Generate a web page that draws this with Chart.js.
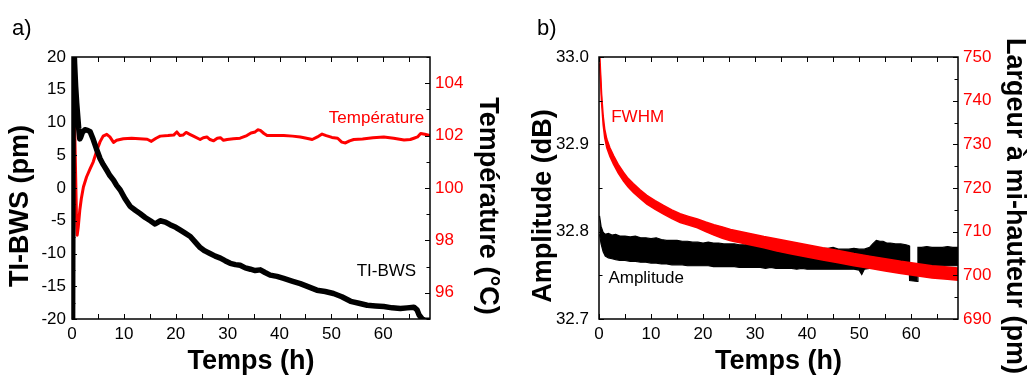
<!DOCTYPE html>
<html><head><meta charset="utf-8">
<script src="https://cdn.jsdelivr.net/npm/chart.js@4/dist/chart.umd.min.js"></script>
<style>
html,body{margin:0;padding:0;background:#fff;width:1028px;height:378px;overflow:hidden}
#wa{position:absolute;left:0;top:0;width:510px;height:378px}
#wb{position:absolute;left:510px;top:0;width:518px;height:378px}
</style></head><body>
<div id="wa"><canvas id="ca"></canvas></div>
<div id="wb"><canvas id="cb"></canvas></div>
<script>
// ---------- data ----------
const tiHours = [0.1,0.25,0.5,0.7,0.9,1.1,1.3,1.5,1.7,2.0,2.5,3.0,3.5,4.1,4.7,5.4,6.0,6.7,7.3,8.0,8.6,9.3,10.2,11.2,12.2,13.1,14.1,15.1,16.0,16.6,17.0,18.0,18.9,20.0,20.8,21.8,22.8,23.8,24.7,25.6,26.6,27.6,28.6,29.5,30.5,31.5,32.4,33.4,34.4,35.3,36.3,37.2,38.2,39.5,40.8,42.4,44.0,45.6,47.2,48.8,50.4,52.0,53.7,55.3,56.9,58.5,60.1,61.7,63.3,64.6,65.9,66.5,66.9,67.5,68.0,69.0];
const tiValues = [-25,25,19,15.5,13,11,9,7.5,7.8,8.5,8.9,8.8,8.6,7.4,6.0,4.5,3.6,2.7,1.9,1.2,0.4,-0.3,-1.6,-2.8,-3.4,-3.9,-4.5,-5.0,-5.5,-5.2,-5.0,-5.2,-5.6,-6.0,-6.4,-6.9,-7.4,-8.3,-9.1,-9.6,-10.0,-10.4,-10.7,-11.1,-11.5,-11.7,-11.8,-12.2,-12.4,-12.6,-12.5,-12.9,-13.3,-13.5,-13.8,-14.2,-14.6,-15.1,-15.6,-15.8,-16.1,-16.6,-17.3,-17.6,-17.9,-18.0,-18.1,-18.3,-18.4,-18.3,-18.2,-18.6,-19.4,-20.0,-20.2,-20.2];

const tempHours = [0.2,0.55,0.85,1.0,1.2,1.5,1.8,2.2,2.8,3.5,4.1,4.8,5.4,6.0,6.7,7.3,8.0,8.6,9.9,11.5,13.0,14.5,15.3,16.2,17.0,18.5,19.6,20.2,20.8,21.4,22.0,22.7,23.4,24.7,25.3,26.0,26.6,27.3,28.0,28.6,29.2,29.9,31.1,32.4,33.7,34.5,35.3,35.8,36.3,37.0,37.6,39.0,40.8,42.5,44.0,45.2,46.3,47.3,48.2,49.0,50.1,51.2,52.0,52.7,53.5,54.3,56.0,58.0,60.1,62.0,64.0,65.2,65.9,66.6,67.2,68.0,69.0];
const tempValues = [105.5,102,99,98.2,98.5,99.15,99.6,100.04,100.42,100.74,101.0,101.44,101.76,101.98,102.05,101.95,101.74,101.82,101.88,101.9,101.88,101.86,101.78,101.9,101.98,102.0,102.02,102.14,102.0,102.02,102.12,102.05,101.98,101.85,101.92,101.95,101.85,101.8,101.9,101.92,101.82,101.85,101.88,101.9,102.0,102.1,102.14,102.22,102.2,102.08,102.0,102.0,102.0,101.98,101.95,101.9,101.85,101.95,102.06,102.0,101.93,101.9,101.75,101.72,101.8,101.85,101.87,101.92,101.95,101.9,101.83,101.85,101.9,101.95,102.08,102.05,102.0];

const fwhmHours = [0.15,0.3,0.5,0.8,1.1,1.5,2.1,2.8,3.7,4.7,5.6,6.6,7.9,9.2,10.8,12.4,14.0,15.6,17.2,18.9,20.5,22.1,23.7,25.3,26.9,28.5,30.1,31.7,34.0,37.0,40.0,43.0,46.0,49.0,52.0,55.0,58.0,61.0,64.0,67.0,69.0];
const fwhmUpper = [750.5,746.5,741.5,736.5,733.5,731.2,729.2,727.4,725.4,723.6,722.2,721.0,719.6,718.3,717.1,716.0,715.0,714.1,713.5,712.9,712.2,711.6,711.1,710.5,710.1,709.7,709.3,708.9,708.4,707.7,707.0,706.3,705.7,705.0,704.4,703.8,703.2,702.7,702.2,701.9,701.7];
const fwhmLower = [748.5,744.5,739.5,734.5,731.5,729.2,727.2,725.4,723.4,721.6,720.2,719.0,717.6,716.3,715.1,714.0,713.0,712.1,711.5,710.9,710.0,709.2,708.5,707.9,707.5,707.1,706.7,706.3,705.6,704.9,704.2,703.5,702.9,702.2,701.6,701.0,700.4,699.9,699.4,699.1,698.9];

const ampHours = [0.1,0.4,0.8,1.2,1.8,2.5,3.2,4,5,6,7,8,9,10,11,12,13,14,15,16,17,18,19,20,21,22,23,24,25,26,27,28,29,30,31,32,33,34,35,36,37,38,39,40,41,42,43,44,45,46,47,48,49,50,50.5,51,52,52.6,53.3,54,54.6,55.3,56,57,58,59,59.6,59.7,61.2,61.3,62,63,64,65,66,67,68,69];
const ampUpper = [32.818,32.806,32.799,32.797,32.798,32.796,32.797,32.795,32.795,32.794,32.795,32.793,32.793,32.792,32.793,32.791,32.790,32.790,32.790,32.789,32.789,32.788,32.788,32.787,32.788,32.787,32.787,32.786,32.786,32.786,32.785,32.785,32.786,32.784,32.784,32.784,32.785,32.783,32.783,32.783,32.782,32.782,32.782,32.781,32.782,32.781,32.781,32.781,32.782,32.780,32.780,32.780,32.781,32.780,32.780,32.780,32.782,32.786,32.790,32.789,32.789,32.787,32.787,32.786,32.786,32.785,32.784,32.762,32.763,32.782,32.782,32.783,32.782,32.782,32.782,32.783,32.782,32.782];
const ampLower = [32.797,32.786,32.777,32.772,32.770,32.769,32.768,32.767,32.767,32.766,32.766,32.765,32.765,32.764,32.764,32.763,32.763,32.762,32.762,32.762,32.761,32.761,32.761,32.761,32.761,32.760,32.760,32.760,32.760,32.760,32.759,32.759,32.759,32.759,32.759,32.758,32.759,32.758,32.758,32.758,32.758,32.757,32.758,32.757,32.757,32.757,32.757,32.757,32.757,32.757,32.757,32.757,32.757,32.756,32.751,32.757,32.758,32.759,32.761,32.762,32.762,32.762,32.762,32.762,32.762,32.762,32.762,32.744,32.743,32.761,32.761,32.761,32.761,32.761,32.761,32.761,32.761,32.761];

const hourTicks = [0,10,20,30,40,50,60];
const tiTicks = [-20,-15,-10,-5,0,5,10,15,20];
const tempTicks = [96,98,100,102,104];
const ampTicks = [32.7,32.8,32.9,33.0];
const ampTickLabels = ['32.7','32.8','32.9','33.0'];
const fwhmTicks = [690,700,710,720,730,740,750];

// ---------- helpers ----------
const FONT = "'Liberation Sans', Arial, sans-serif";
Chart.defaults.font.family = FONT;
const RED = '#ff0000';
const pts = (xs, ys) => xs.map((x, i) => ({x, y: ys[i]}));

const deco = {
  id: 'deco',
  afterDatasetsDraw(chart, args, o) {
    const {ctx, chartArea: a, scales} = chart;
    ctx.save();
    ctx.strokeStyle = '#000';
    ctx.lineWidth = 1;
    const seg = (x1, y1, x2, y2) => { ctx.beginPath(); ctx.moveTo(x1, y1); ctx.lineTo(x2, y2); ctx.stroke(); };
    const xs = scales.x;
    for (let i = 0; ; i++) {
      const v = xs.min + i * o.xMinor;
      if (v > xs.max + 1e-9) break;
      const px = Math.round(xs.getPixelForValue(v)) + 0.5;
      seg(px, a.bottom, px, a.bottom - 5);
      seg(px, a.top, px, a.top + 5);
    }
    [[o.leftAxis, 'left'], [o.rightAxis, 'right']].forEach(([id, side]) => {
      const s = scales[id];
      const majors = s.ticks.map(t => t.value);
      const step = (majors[1] - majors[0]) / 2;
      for (let i = 0; ; i++) {
        const v = s.min + i * step;
        if (v > s.max + step * 0.01) break;
        const isMajor = majors.some(m => Math.abs(m - v) < step * 0.01);
        const len = isMajor ? 5 : 3.5;
        const py = Math.round(s.getPixelForValue(v)) + 0.5;
        if (side === 'left') seg(a.left, py, a.left + len, py);
        else seg(a.right, py, a.right - len, py);
      }
    });
    ctx.lineWidth = 1.5;
    ctx.strokeRect(a.left, a.top, a.right - a.left, a.bottom - a.top);

    // axis titles (vertical)
    ctx.fillStyle = '#000';
    ctx.font = 'bold 27px ' + FONT;
    ctx.textAlign = 'center';
    ctx.textBaseline = 'middle';
    o.yTitles.forEach(t => {
      ctx.save();
      ctx.translate(t.x, a.top + o.titleDy);
      ctx.rotate(t.rot);
      ctx.fillText(t.text, 0, 0);
      ctx.restore();
    });
    // in-plot notes
    ctx.font = '17px ' + FONT;
    o.notes.forEach(n => {
      ctx.fillStyle = n.color;
      ctx.fillText(n.text, xs.getPixelForValue(n.h), scales[n.axis].getPixelForValue(n.v));
    });
    // panel letter
    ctx.fillStyle = '#000';
    ctx.font = '22px ' + FONT;
    ctx.textAlign = 'left';
    ctx.textBaseline = 'alphabetic';
    ctx.fillText(o.panel, o.panelX, 35);
    ctx.restore();
  }
};

function xScale() {
  return {
    type: 'linear', position: 'bottom', min: 0, max: 69,
    grid: {display: false, drawTicks: false}, border: {display: false},
    ticks: {font: {size: 17}, color: '#000', padding: 5, autoSkip: false, maxRotation: 0},
    afterBuildTicks: s => { s.ticks = hourTicks.map(v => ({value: v})); },
    afterFit: s => { s.height = 59; },
    title: {display: true, text: 'Temps (h)', color: '#000', font: {size: 27, weight: 'bold'}, padding: {top: 0, bottom: 0}}
  };
}
function yScale(pos, min, max, tickVals, width, pad, color, cb) {
  const t = {font: {size: 17}, color: color, padding: pad, autoSkip: false};
  if (cb) t.callback = cb;
  return {
    type: 'linear', position: pos, min: min, max: max,
    grid: {display: false, drawTicks: false}, border: {display: false},
    ticks: t,
    afterBuildTicks: s => { s.ticks = tickVals.map(v => ({value: v})); },
    afterFit: s => { s.width = width; }
  };
}

// ---------- chart a ----------
new Chart(document.getElementById('ca'), {
  type: 'line',
  data: {datasets: [
    {label: 'TI-BWS', data: pts(tiHours, tiValues), yAxisID: 'y', borderColor: '#000', backgroundColor: '#000', borderWidth: 5.5, pointRadius: 0, tension: 0, clip: 0, borderJoinStyle: 'round', borderCapStyle: 'round'},
    {label: 'Température', data: pts(tempHours, tempValues), yAxisID: 'y1', borderColor: RED, backgroundColor: RED, borderWidth: 3, pointRadius: 0, tension: 0, clip: 0, borderJoinStyle: 'round'}
  ]},
  options: {
    responsive: true, maintainAspectRatio: false, animation: false,
    layout: {padding: {top: 57, left: 0, right: 0, bottom: 0}},
    plugins: {
      legend: {display: false}, tooltip: {enabled: false},
      deco: {
        xMinor: 5, leftAxis: 'y', rightAxis: 'y1', titleDy: 149, panel: 'a)', panelX: 12,
        yTitles: [{text: 'TI-BWS (pm)', x: 21, rot: -Math.PI / 2}, {text: 'Température (°C)', x: 487, rot: Math.PI / 2}],
        notes: [{text: 'Température', h: 58.7, v: 102.65, axis: 'y1', color: RED}, {text: 'TI-BWS', h: 60.6, v: -12.75, axis: 'y', color: '#000'}]
      }
    },
    scales: {
      x: xScale(),
      y: yScale('left', -20, 20, tiTicks, 72, 6, '#000'),
      y1: yScale('right', 95, 105, tempTicks, 80, 5, RED)
    }
  },
  plugins: [deco]
});

// ---------- chart b ----------
new Chart(document.getElementById('cb'), {
  type: 'line',
  data: {datasets: [
    {label: 'FWHM', data: pts(fwhmHours, fwhmUpper), yAxisID: 'y1', borderColor: RED, backgroundColor: RED, borderWidth: 1.5, pointRadius: 0, tension: 0, clip: 0, fill: '+1'},
    {label: 'FWHM low', data: pts(fwhmHours, fwhmLower), yAxisID: 'y1', borderColor: RED, backgroundColor: RED, borderWidth: 1.5, pointRadius: 0, tension: 0, clip: 0, fill: false},
    {label: 'Amplitude', data: pts(ampHours, ampUpper), yAxisID: 'y', borderColor: '#000', backgroundColor: '#000', borderWidth: 1.2, pointRadius: 0, tension: 0, clip: 0, fill: '+1'},
    {label: 'Amplitude low', data: pts(ampHours, ampLower), yAxisID: 'y', borderColor: '#000', backgroundColor: '#000', borderWidth: 1.2, pointRadius: 0, tension: 0, clip: 0, fill: false}
  ]},
  options: {
    responsive: true, maintainAspectRatio: false, animation: false,
    layout: {padding: {top: 57, left: 0, right: 0, bottom: 0}},
    plugins: {
      legend: {display: false}, tooltip: {enabled: false},
      deco: {
        xMinor: 5, leftAxis: 'y', rightAxis: 'y1', titleDy: 149, panel: 'b)', panelX: 27,
        yTitles: [{text: 'Amplitude (dB)', x: 34, rot: -Math.PI / 2}, {text: 'Largeur à mi-hauteur (pm)', x: 504, rot: Math.PI / 2}],
        notes: [{text: 'FWHM', h: 7.43, v: 736.1, axis: 'y1', color: RED}, {text: 'Amplitude', h: 9.07, v: 32.747, axis: 'y', color: '#000'}]
      }
    },
    scales: {
      x: xScale(),
      y: yScale('left', 32.7, 33.0, ampTicks, 89, 10, '#000', v => ampTickLabels[ampTicks.findIndex(t => Math.abs(t - v) < 1e-6)]),
      y1: yScale('right', 690, 750, fwhmTicks, 70, 5, RED)
    }
  },
  plugins: [deco]
});
</script>
</body></html>
